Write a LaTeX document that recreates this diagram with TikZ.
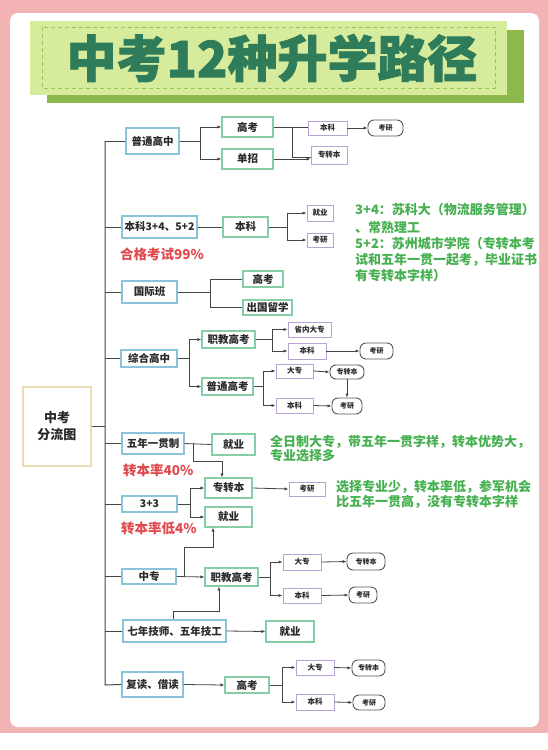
\documentclass[tikz,border=0pt]{standalone}
\usepackage{fontspec}
\setmainfont{Noto Sans CJK SC}
\newfontfamily\ttlfont[BoldFeatures={FakeBold=1.6}]{Noto Sans CJK SC}
\usetikzlibrary{calc,arrows.meta}
\definecolor{pinkbg}{HTML}{F3B3B5}
\definecolor{titlefill}{HTML}{D6EC9C}
\definecolor{titleshadow}{HTML}{8DB84B}
\definecolor{titledash}{HTML}{9CC25A}
\definecolor{titletext}{HTML}{2F7C5A}
\definecolor{blueb}{HTML}{8CC2DC}
\definecolor{greenb}{HTML}{86CFA6}
\definecolor{purpb}{HTML}{B9A2D4}
\definecolor{tanb}{HTML}{EBDAB4}
\definecolor{grayb}{HTML}{555555}
\definecolor{lineg}{HTML}{444444}
\definecolor{txt}{HTML}{2A2A2A}
\definecolor{notegreen}{HTML}{46B050}
\definecolor{notered}{HTML}{E04A4E}
\tikzset{
  sz/.style 2 args={minimum width=#1pt, minimum height=#2pt},
  basebox/.style={draw, inner sep=0pt, text=txt, fill=white},
  bb/.style={basebox, draw=blueb, line width=1.1pt, font=\fontsize{10.5}{12}\selectfont\bfseries},
  gb/.style={basebox, draw=greenb, line width=1.1pt, font=\fontsize{10.5}{12}\selectfont\bfseries},
  pb/.style={basebox, draw=purpb, line width=0.9pt, font=\fontsize{7.5}{9}\selectfont\bfseries},
  rb/.style={basebox, draw=grayb, rounded corners=6pt, line width=0.9pt, font=\fontsize{7}{8}\selectfont\bfseries},
  rootbox/.style={basebox, draw=tanb, line width=1.1pt, align=center, font=\fontsize{13}{17}\selectfont\bfseries},
  ln/.style={draw=lineg, line width=0.8pt},
  ar/.style={ln, -{Latex[length=4pt,width=3.2pt]}},
  notel/.style={anchor=west, inner sep=0pt, text=notegreen, font=\fontsize{13}{15}\selectfont\bfseries},
  redl/.style={anchor=west, inner sep=0pt, text=notered, font=\fontsize{13.5}{15}\selectfont\bfseries},
}
\begin{document}
\begin{tikzpicture}[x=1pt,y=-1pt]
\useasboundingbox (0,0) rectangle (548,750);
% background
\fill[pinkbg] (0,0) rectangle (548,733);
\fill[white] (0,733) rectangle (548,750);
\fill[white, rounded corners=8pt] (10,13) rectangle (539,727);
% title
\fill[titleshadow] (47,30) rectangle (524,103);
\fill[titlefill] (30,21) rectangle (507,95);
\draw[titledash, line width=0.8pt, dash pattern=on 4pt off 3pt] (42,27) rectangle (495,88);
\node[text=titletext, inner sep=0pt, font=\ttlfont\fontsize{50}{55}\selectfont\bfseries] (title) at (272,58) {中考12种升学路径};

% root
\node[rootbox, sz={68}{79}] (root) at (57,426.5) {中考\\分流图};

% trunk coordinates
\coordinate (ttop) at (105,141);
\coordinate (tbot) at (105,685);

% Row 1
\node[bb, sz={53}{26}] (a1) at (152.5,141) {普通高中};
\node[gb, sz={51}{20}] (a2) at (247.5,127) {高考};
\node[gb, sz={51}{20}] (a3) at (247.5,159) {单招};
\node[pb, sz={39}{14}] (a4) at (327.5,128) {本科};
\node[pb, sz={36}{18}] (a5) at (329,155) {专转本};
\node[rb, sz={35}{16}] (a6) at (385.5,128) {考研};

% Row 2
\node[bb, sz={75}{22}] (b1) at (159.5,227) {本科3+4、5+2};
\node[gb, sz={45}{20}] (b2) at (245.5,227) {本科};
\node[pb, sz={26}{16}] (b3) at (320,213) {就业};
\node[pb, sz={26}{14}] (b4) at (320,240) {考研};
\node[notel] (n1a) at (355,210) {3+4：苏科大（物流服务管理）};
\node[notel] (n1b) at (355,227) {、常熟理工};
\node[notel] (n1c) at (355,243.5) {5+2：苏州城市学院（专转本考};
\node[notel] (n1d) at (355,260) {试和五年一贯一起考，毕业证书};
\node[notel] (n1e) at (355,276) {有专转本字样）};
\node[redl] (r1) at (120,254) {合格考试99\%};

% Row 3
\node[bb, sz={55}{22}] (c1) at (149.5,292) {国际班};
\node[gb, sz={40}{16}] (c2) at (263,279) {高考};
\node[gb, sz={49}{15}] (c3) at (267.5,307.5) {出国留学};

% Row 4
\node[bb, sz={56}{17}] (d1) at (149,358.5) {综合高中};
\node[gb, sz={53}{17}] (d2) at (228.5,339.5) {职教高考};
\node[gb, sz={51}{17}] (d3) at (227.5,386.5) {普通高考};
\node[pb, sz={43}{15}] (d4) at (309.5,329.5) {省内大专};
\node[pb, sz={38}{16}] (d5) at (307,351) {本科};
\node[rb, sz={33}{16}] (d6) at (376.5,351) {考研};
\node[pb, sz={37}{14}] (d7) at (294.5,371) {大专};
\node[rb, sz={34}{14}] (d8) at (347,372) {专转本};
\node[pb, sz={37}{15}] (d9) at (294.5,405.5) {本科};
\node[rb, sz={30}{16}] (d10) at (347,406) {考研};

% Row 5
\node[bb, sz={62}{21}] (e1) at (153,443.5) {五年一贯制};
\node[gb, sz={43}{21}] (e2) at (233.5,444.5) {就业};
\node[notel] (n2a) at (270,442) {全日制大专，带五年一贯字样，转本优势大，};
\node[notel] (n2b) at (270,456) {专业选择多};
\node[redl] (r2) at (123,470) {转本率40\%};
\node[gb, sz={47}{20}] (e3) at (228.5,488) {专转本};
\node[pb, sz={36}{14}] (e4) at (307,489) {考研};
\node[notel] (n3a) at (336,487) {选择专业少，转本率低，参军机会};
\node[notel] (n3b) at (336,502) {比五年一贯高，没有专转本字样};

% Row 6
\node[bb, sz={55}{16}] (f1) at (149.5,504) {3+3};
\node[gb, sz={47}{20}] (f2) at (228.5,517) {就业};
\node[redl] (r3) at (121,528) {转本率低4\%};

% Row 7
\node[bb, sz={54}{15}] (g1) at (149,576.5) {中专};
\node[gb, sz={53}{18}] (g2) at (231.5,577) {职教高考};
\node[pb, sz={38}{16}] (g3) at (302,562) {大专};
\node[rb, sz={38}{17}] (g4) at (366,561.5) {专转本};
\node[pb, sz={38}{15}] (g5) at (302,595.5) {本科};
\node[rb, sz={28}{16}] (g6) at (363,595) {考研};

% Row 8
\node[bb, sz={103}{22}] (h1) at (174.5,631) {七年技师、五年技工};
\node[gb, sz={48}{21}] (h2) at (290,631.5) {就业};

% Row 9
\node[bb, sz={61}{25}] (i1) at (152.5,684.5) {复读、借读};
\node[gb, sz={44}{16}] (i2) at (247,685) {高考};
\node[pb, sz={38}{15}] (i3) at (315,667.5) {大专};
\node[rb, sz={33}{16}] (i4) at (368.5,668) {专转本};
\node[pb, sz={38}{16}] (i5) at (315,702) {本科};
\node[rb, sz={32}{15}] (i6) at (369,702.5) {考研};

% ---------- connectors ----------
\draw[ln, line width=1pt] (ttop) -- (tbot) -- (i1.west);
\draw[ln] (ttop) -- (a1.west);
\draw[ln] (root.east) -- (root.east -| ttop);
\draw[ln] (b1.west -| ttop) -- (b1.west);
\draw[ln] (c1.west -| ttop) -- (c1.west);
\draw[ln] (d1.west -| ttop) -- (d1.west);
\draw[ln] (e1.west -| ttop) -- (e1.west);
\draw[ln] (f1.west -| ttop) -- (f1.west);
\draw[ln] (g1.west -| ttop) -- (g1.west);
\draw[ln] (h1.west -| ttop) -- (h1.west);

% Row 1
\coordinate (j1) at (200,141);
\draw[ln] (a1.east) -- (j1);
\draw[ar] (j1) |- (a2.west);
\draw[ar] (j1) |- (a3.west);
\coordinate (j2) at (292,127);
\draw[ln] (a2.east) -- (a2.east -| a4.west);
\draw[ln] (j2) |- ($(a5.west)+(0,2)$);
\draw[ar] (a3.east) -- (a3.east -| a5.west);
\draw[ar] (a4.east) -- (a6.west);

% Row 2
\draw[ln] (b1.east) -- (b2.west);
\coordinate (j3) at (287,227);
\draw[ln] (b2.east) -- (j3);
\draw[ar] (j3) |- (b3.west);
\draw[ar] (j3) |- (b4.west);

% Row 3
\coordinate (j4) at (210,292);
\draw[ln] (c1.east) -- (j4);
\draw[ln] (j4) |- (c2.west);
\draw[ln] (j4) |- (c3.west);

% Row 4
\coordinate (j5) at (189,358.5);
\draw[ln] (d1.east) -- (j5);
\draw[ar] (j5) |- (d2.west);
\draw[ar] (j5) |- (d3.west);
\coordinate (j6) at (272,339.5);
\draw[ln] (d2.east) -- (j6);
\draw[ar] (j6) |- (d4.west);
\draw[ar] (j6) |- (d5.west);
\draw[ar] (d5.east) -- (d6.west);
\coordinate (j7) at (263,386.5);
\draw[ln] (d3.east) -- (j7);
\draw[ar] (j7) |- (d7.west);
\draw[ar] (j7) |- (d9.west);
\draw[ar] (d7.east) -- (d8.west);
\draw[ar] (d9.east) -- (d10.west);
\draw[ar] (d8.south) -- (d10.north);

% Row 5
\draw[ln] (e1.east) -- (e2.west);
\coordinate (k1) at (193,443.5);
\coordinate (k2) at (222,461);
\draw[ar] (k1) |- (k2) -- (k2 |- e3.north);
\draw[ar] (e3.east) -- (e4.west);

% Row 6
\coordinate (j9) at (190,504);
\draw[ln] (f1.east) -- (j9);
\draw[ar] (j9) |- (e3.west);
\draw[ar] (j9) |- (f2.west);

% Row 7
\draw[ar] (g1.east) -- (g2.west);
\coordinate (k3) at (184,576.5);
\coordinate (k4) at (213,547);
\draw[ar] (k3) |- (k4) -- (k4 |- f2.south);
\coordinate (j10) at (270,577);
\draw[ln] (g2.east) -- (j10);
\draw[ar] (j10) |- (g3.west);
\draw[ar] (j10) |- (g5.west);
\draw[ar] (g3.east) -- (g4.west);
\draw[ar] (g5.east) -- (g6.west);

% Row 8
\coordinate (k5) at (173,611);
\coordinate (k6) at (219,611);
\draw[ar] (k5 |- h1.north) -- (k5) -- (k6) -- (k6 |- g2.south);
\draw[ar] (h1.east) -- (h2.west);

% Row 9
\draw[ar] (i1.east) -- (i2.west);
\coordinate (j11) at (282,685);
\draw[ln] (i2.east) -- (j11);
\draw[ar] (j11) |- (i3.west);
\draw[ar] (j11) |- (i5.west);
\draw[ar] (i3.east) -- (i4.west);
\draw[ar] (i5.east) -- (i6.west);
\end{tikzpicture}
\end{document}
